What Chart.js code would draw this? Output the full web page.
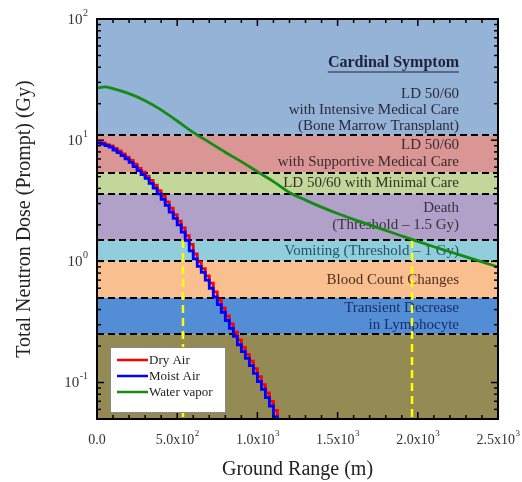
<!DOCTYPE html>
<html>
<head>
<meta charset="utf-8">
<script src="https://cdn.jsdelivr.net/npm/chart.js@4"></script>
<style>
  body { margin: 0; background: #fff; }
  #wrap { width: 522px; height: 482px; }
</style>
</head>
<body>
<div id="wrap"><canvas id="myChart" width="522" height="482"></canvas></div>
<script>
// ground range of the histogram bins (m)
const stepRange = [0, 25, 50, 75, 100, 125, 150, 175, 200, 225, 250, 275, 300, 325, 350, 375,
  400, 425, 450, 475, 500, 525, 550, 575, 600, 625, 650, 675, 700, 725, 750, 775,
  800, 825, 850, 875, 900, 925, 950, 975, 1000, 1025, 1050, 1075, 1100, 1125]
const dryAir = [9.7, 9.5, 9.2, 8.95, 8.55, 8.15, 7.7, 7.25, 6.8, 6.35, 5.85, 5.45, 5.05, 4.65, 4.25, 3.83,
  3.45, 3.1, 2.75, 2.43, 2.15, 1.89, 1.63, 1.38, 1.15, 0.99, 0.87, 0.76, 0.66, 0.56, 0.48, 0.41,
  0.355, 0.305, 0.26, 0.225, 0.195, 0.17, 0.15, 0.13, 0.112, 0.096, 0.082, 0.07, 0.059, 0.05]
const moistAir = [9.45, 9.3, 9.0, 8.75, 8.3, 7.9, 7.45, 7.0, 6.55, 6.05, 5.6, 5.2, 4.83, 4.4, 4.02, 3.6,
  3.25, 2.9, 2.55, 2.26, 2.0, 1.74, 1.49, 1.22, 1.05, 0.91, 0.81, 0.7, 0.6, 0.51, 0.44, 0.38,
  0.325, 0.28, 0.24, 0.205, 0.18, 0.158, 0.138, 0.119, 0.102, 0.088, 0.075, 0.064, 0.052, 0.044]

const waterRange = [0, 50, 100, 200, 300, 400, 500, 600, 700, 800, 900, 1000, 1100, 1200, 1300,
  1400, 1500, 1600, 1700, 1800, 1900, 2000, 2100, 2200, 2300, 2400, 2500]
const waterVapor = [27.0, 27.5, 26.6, 24.2, 21.2, 17.8, 14.4, 11.6, 9.6, 7.95, 6.65, 5.5, 4.55, 3.7, 3.2,
  2.8, 2.48, 2.22, 2.0, 1.8, 1.62, 1.46, 1.32, 1.2, 1.09, 0.99, 0.9]

// symptom bands (Gy), top to bottom
const bandEdges = [100, 11, 5.4, 3.6, 1.5, 1, 0.5, 0.25, 0.05]
const bandText = [
  ['LD 50/60', 'with Intensive Medical Care', '(Bone Marrow Transplant)'],
  ['LD 50/60', 'with Supportive Medical Care'],
  ['LD 50/60 with Minimal Care'],
  ['Death', '(Threshold \u2013 1.5 Gy)'],
  ['Vomiting (Threshold \u2013 1 Gy)'],
  ['Blood Count Changes'],
  ['Transient Decrease', 'in Lymphocyte'],
  []
]
const heading = 'Cardinal Symptom'
const bandColors = ['#95b3d7', '#da9694', '#c4d79b', '#b1a0c7', '#92cddc', '#fabf8f', '#538dd5', '#948a54']
const bandTextColors = ['#2a2a3c', '#3a2a2e', '#2e3522', '#3a3046', '#1f5566', '#4a3020', '#1a2e6a', '#222']

// dose of 1.5 Gy reached at these ranges
const markRange = [536, 1964]
const markDose = 1.5

const yDecades = [0.1, 1, 10, 100]
const yExponents = ['-1', '0', '1', '2']
const xTicks = [0, 500, 1000, 1500, 2000, 2500]
const xTickBase = ['0.0', '5.0x10', '1.0x10', '1.5x10', '2.0x10', '2.5x10']
const xTickExp = ['', '2', '3', '3', '3', '3']

const serif = '"Liberation Serif", "Times New Roman", serif'

const decor = {
  id: 'decor',
  beforeDatasetsDraw(chart) {
    const { ctx, chartArea: a, scales: { y } } = chart
    ctx.save()
    for (let i = 0; i < bandColors.length; i++) {
      const top = y.getPixelForValue(bandEdges[i])
      const bot = y.getPixelForValue(bandEdges[i + 1])
      ctx.fillStyle = bandColors[i]
      ctx.fillRect(a.left, top, a.right - a.left, bot - top)
    }
    ctx.strokeStyle = '#000'
    ctx.lineWidth = 2
    ctx.setLineDash([7, 4])
    for (let i = 1; i < bandEdges.length - 1; i++) {
      const py = Math.round(y.getPixelForValue(bandEdges[i]))
      ctx.beginPath(); ctx.moveTo(a.left, py); ctx.lineTo(a.right, py); ctx.stroke()
    }
    ctx.setLineDash([])

    // band labels
    const tx = a.right - 39
    ctx.textAlign = 'right'
    ctx.textBaseline = 'middle'
    ctx.font = '15px ' + serif
    const lh = 17
    bandText.forEach((lines, i) => {
      if (!lines.length) return
      const top = y.getPixelForValue(bandEdges[i])
      const bot = y.getPixelForValue(bandEdges[i + 1])
      let start
      if (i === 0) start = bot - 9 - (lines.length - 1) * 16
      else start = (top + bot) / 2 - (lines.length - 1) * lh / 2
      ctx.fillStyle = bandTextColors[i]
      lines.forEach((t, j) => ctx.fillText(t, tx, start + j * (i === 0 ? 16 : lh)))
    })
    ctx.font = 'bold 16px ' + serif
    ctx.fillStyle = '#1e2236'
    const hy = a.top + 44
    ctx.fillText(heading, tx, hy)
    const hw = ctx.measureText(heading).width
    ctx.strokeStyle = '#1e2236'
    ctx.lineWidth = 1.2
    ctx.beginPath(); ctx.moveTo(tx - hw, hy + 9); ctx.lineTo(tx, hy + 9); ctx.stroke()
    ctx.restore()
  },
  afterDatasetsDraw(chart) {
    const { ctx, chartArea: a, scales: { x, y } } = chart
    ctx.save()
    ctx.strokeStyle = '#000'
    ctx.lineWidth = 2
    ctx.strokeRect(a.left, a.top, a.right - a.left, a.bottom - a.top)

    // inward ticks
    ctx.lineWidth = 1.5
    const tick = (x1, y1, x2, y2) => { ctx.beginPath(); ctx.moveTo(x1, y1); ctx.lineTo(x2, y2); ctx.stroke() }
    for (let dec = 0.01; dec < 100; dec *= 10) {
      for (let k = 1; k <= 9; k++) {
        const v = k * dec
        if (v < 0.05 || v > 100) continue
        const py = y.getPixelForValue(v)
        const len = k === 1 ? 7 : 4
        tick(a.left, py, a.left + len, py)
        tick(a.right, py, a.right - len, py)
      }
    }
    for (let m = 0; m <= 2500; m += 100) {
      const px = x.getPixelForValue(m)
      const len = m % 500 === 0 ? 7 : 4
      tick(px, a.bottom, px, a.bottom - len)
      tick(px, a.top, px, a.top + len)
    }

    // tick labels
    ctx.fillStyle = '#333'
    ctx.textBaseline = 'middle'
    ctx.textAlign = 'left'
    yDecades.forEach((v, i) => {
      const py = y.getPixelForValue(v)
      ctx.font = '10px ' + serif
      const ew = ctx.measureText(yExponents[i]).width
      ctx.font = '15px ' + serif
      const bw = ctx.measureText('10').width
      const right = 88
      ctx.fillText('10', right - ew - bw - 0.5, py + 1)
      ctx.font = '10px ' + serif
      ctx.fillText(yExponents[i], right - ew, py - 6)
    })
    xTicks.forEach((m, i) => {
      const px = x.getPixelForValue(m)
      ctx.font = '14px ' + serif
      const bw = ctx.measureText(xTickBase[i]).width
      ctx.font = '9px ' + serif
      const ew = ctx.measureText(xTickExp[i]).width
      const left = px - (bw + ew) / 2
      ctx.font = '14px ' + serif
      ctx.fillText(xTickBase[i], left, 440)
      ctx.font = '9px ' + serif
      ctx.fillText(xTickExp[i], left + bw + 0.5, 434)
    })

    // axis titles
    ctx.fillStyle = '#222'
    ctx.font = '20px ' + serif
    ctx.textAlign = 'center'
    ctx.fillText('Ground Range (m)', (a.left + a.right) / 2, 470)
    ctx.save()
    ctx.translate(25, (a.top + a.bottom) / 2)
    ctx.rotate(-Math.PI / 2)
    ctx.fillText('Total Neutron Dose (Prompt) (Gy)', 0, 0)
    ctx.restore()

    // legend
    const items = chart.data.datasets.filter(d => d.label)
    ctx.fillStyle = '#fff'
    ctx.fillRect(110, 347, 115, 65)
    ctx.strokeStyle = '#888'
    ctx.lineWidth = 1
    ctx.strokeRect(110.5, 347.5, 115, 65)
    ctx.font = '13px ' + serif
    ctx.textAlign = 'left'
    items.forEach((d, i) => {
      const ly = 360 + i * 16
      ctx.strokeStyle = d.borderColor
      ctx.lineWidth = 2.5
      tick(117, ly, 148, ly)
      ctx.fillStyle = '#222'
      ctx.fillText(d.label, 149, ly + 1)
    })
    ctx.restore()
  }
}

const toPoints = (xs, ys) => xs.map((r, i) => ({ x: r, y: ys[i] }))

const datasets = [
  { label: 'Dry Air', data: toPoints(stepRange, dryAir), borderColor: '#ff0000', borderWidth: 2.8, stepped: 'before', order: 1 },
  { label: 'Moist Air', data: toPoints(stepRange, moistAir), borderColor: '#0000ff', borderWidth: 2.8, stepped: 'before', order: 0 },
  { label: 'Water vapor', data: toPoints(waterRange, waterVapor), borderColor: '#148c14', borderWidth: 2.8, cubicInterpolationMode: 'monotone', order: 2 }
]
markRange.forEach(r => {
  datasets.push({
    data: [{ x: r, y: markDose }, { x: r, y: bandEdges[bandEdges.length - 1] }],
    borderColor: '#ffff00', borderWidth: 2.5, borderDash: [8, 5], order: 3
  })
})

const ctx = document.getElementById('myChart').getContext('2d')
new Chart(ctx, {
  type: 'line',
  data: { datasets },
  options: {
    responsive: false,
    animation: false,
    events: [],
    elements: { point: { radius: 0 } },
    layout: { padding: { left: 97, top: 19, right: 24, bottom: 63 } },
    plugins: { legend: { display: false }, tooltip: { enabled: false } },
    scales: {
      x: { type: 'linear', min: 0, max: 2500, display: false },
      y: { type: 'logarithmic', min: 0.05, max: 100, display: false }
    }
  },
  plugins: [decor]
})
</script>
</body>
</html>
